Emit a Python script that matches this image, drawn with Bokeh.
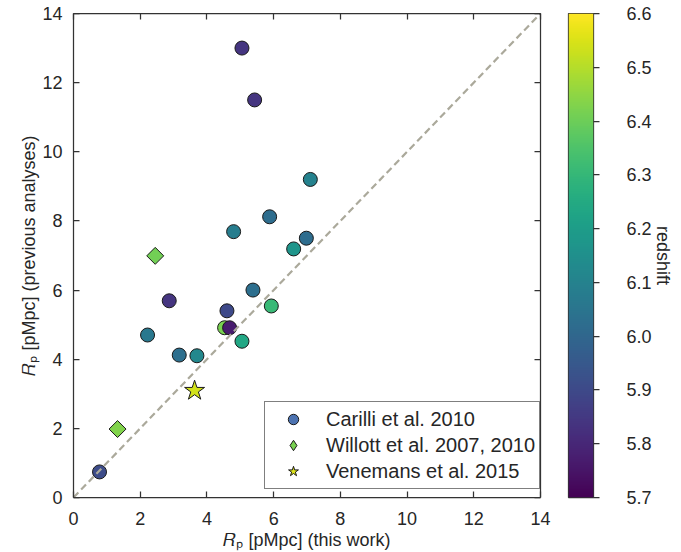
import math
import numpy as np
from bokeh.plotting import figure
from bokeh.models import (ColumnDataSource, LinearColorMapper, FixedTicker, LinearAxis,
                          Legend, LegendItem, Range1d, PrintfTickFormatter)
from bokeh.palettes import Viridis256
from bokeh.transform import transform
from bokeh.layouts import row
from bokeh.embed import file_html
from bokeh.resources import INLINE

# ---------------- data ----------------
# Carilli et al. 2010
car_x = [5.05, 5.43, 7.10, 5.88, 4.80, 6.98, 6.60, 5.38, 2.87, 5.93, 4.60, 4.53, 4.68, 2.22, 5.05, 3.17, 3.70, 0.78]
car_y = [13.00, 11.50, 9.20, 8.12, 7.69, 7.50, 7.19, 6.00, 5.69, 5.54, 5.40, 4.91, 4.91, 4.70, 4.52, 4.12, 4.10, 0.74]
car_z = [5.84, 5.84, 6.10, 6.02, 6.08, 6.02, 6.17, 6.03, 5.84, 6.31, 5.90, 6.42, 5.77, 6.06, 6.24, 6.03, 6.12, 5.91]
# Willott et al. 2007, 2010
wil_x = [2.45, 1.32]
wil_y = [6.99, 1.98]
wil_z = [6.41, 6.43]
# Venemans et al. 2015
ven_x = [3.63]
ven_y = [3.09]
ven_z = [6.54]

one_to_one = [0, 14]
axis_ticks = [0, 2, 4, 6, 8, 10, 12, 14]
cbar_ticks = [5.7, 5.8, 5.9, 6.0, 6.1, 6.2, 6.3, 6.4, 6.5, 6.6]
z_low, z_high = 5.7, 6.6

x_label = "\U0001D445\u209A [pMpc] (this work)"
y_label = "\U0001D445\u209A [pMpc] (previous analyses)"
cbar_label = "redshift"
legend_labels = ["Carilli et al. 2010", "Willott et al. 2007, 2010", "Venemans et al. 2015"]
legend_colors = ["#4c72b0", "#78d151", "#dde318"]

FONT = "Liberation Sans"
FS = "18px"
TXT = "#262626"
SPINE = "#333333"

mapper = LinearColorMapper(palette=Viridis256, low=z_low, high=z_high)

# ---------------- main figure ----------------
p = figure(frame_width=467, frame_height=484, x_range=Range1d(0, 14), y_range=Range1d(0, 14),
           output_backend="svg", toolbar_location=None,
           min_border_left=73, min_border_right=13, min_border_top=13, min_border_bottom=53,
           x_axis_location=None, y_axis_location=None)
p.grid.visible = False
p.outline_line_color = None
p.background_fill_color = "white"

for side in ["below", "left", "above", "right"]:
    ax = LinearAxis(ticker=FixedTicker(ticks=axis_ticks), major_tick_in=6, major_tick_out=0,
                    minor_tick_line_color=None, axis_line_color=SPINE, major_tick_line_color=SPINE,
                    axis_line_width=1.25, major_tick_line_width=1.25,
                    major_label_text_font=FONT, major_label_text_font_size=FS,
                    major_label_text_color=TXT,
                    axis_label_text_font=FONT, axis_label_text_font_size=FS,
                    axis_label_text_font_style="normal", axis_label_text_color=TXT,
                    axis_label_standoff=0)
    if side in ("above", "right"):
        ax.major_label_overrides = {t: "" for t in axis_ticks}
        ax.major_label_standoff = 0
    elif side == "below":
        ax.major_label_standoff = 14
        ax.axis_label = x_label
        ax.axis_label_standoff = 2
    else:
        ax.major_label_standoff = 11
        ax.axis_label = y_label
    p.add_layout(ax, side)

src_c = ColumnDataSource(dict(x=car_x, y=car_y, z=car_z))
src_w = ColumnDataSource(dict(x=wil_x, y=wil_y, z=wil_z))
src_v = ColumnDataSource(dict(x=ven_x, y=ven_y, z=ven_z))

p.scatter("x", "y", source=src_c, marker="circle", size=14,
          fill_color=transform("z", mapper), line_color="#1a1a1a", line_width=1)
p.scatter("x", "y", source=src_w, marker="square", angle=math.pi / 4, size=12,
          fill_color=transform("z", mapper), line_color="#1a1a1a", line_width=1)
p.scatter("x", "y", source=src_v, marker="star", size=21,
          fill_color=transform("z", mapper), line_color="#1a1a1a", line_width=1)

p.line(one_to_one, one_to_one, line_color="#aba99b", line_width=2.2, line_dash="7 4")

# legend (proxy renderers, not drawn in the plot area, carry the legend colours)
nan = float("nan")
proxy = dict(x=[nan], y=[nan])
r1 = p.scatter("x", "y", source=ColumnDataSource(proxy), marker="circle", size=14,
               fill_color=legend_colors[0], line_color="#1a1a1a")
r2 = p.scatter("x", "y", source=ColumnDataSource(proxy), marker="diamond", size=16,
               fill_color=legend_colors[1], line_color="#1a1a1a")
r3 = p.scatter("x", "y", source=ColumnDataSource(proxy), marker="star", size=21,
               fill_color=legend_colors[2], line_color="#1a1a1a")
legend = Legend(items=[LegendItem(label=legend_labels[0], renderers=[r1], index=0),
                       LegendItem(label=legend_labels[1], renderers=[r2], index=0),
                       LegendItem(label=legend_labels[2], renderers=[r3], index=0)],
                location=(191, 8), label_text_font=FONT, label_text_font_size="20px",
                label_text_color=TXT, border_line_color="black", border_line_width=1,
                padding=4, spacing=0, glyph_width=48, glyph_height=26, label_height=26,
                label_standoff=9, background_fill_alpha=1)
p.add_layout(legend, "center")

# ---------------- colour bar figure ----------------
cb = figure(frame_width=25, frame_height=484, x_range=Range1d(0, 1), y_range=Range1d(z_low, z_high),
            output_backend="svg", toolbar_location=None,
            min_border_left=15, min_border_right=83, min_border_top=13, min_border_bottom=53,
            x_axis_location=None, y_axis_location=None)
cb.grid.visible = False
cb.outline_line_color = SPINE
cb.outline_line_width = 1.25
grad = np.linspace(z_low, z_high, 256).reshape(-1, 1)
cb.image(image=[grad], x=0, y=z_low, dw=1, dh=z_high - z_low, color_mapper=mapper)
cax = LinearAxis(ticker=FixedTicker(ticks=cbar_ticks), formatter=PrintfTickFormatter(format="%.1f"),
                 major_tick_in=0, major_tick_out=6, minor_tick_line_color=None,
                 axis_line_color=None, major_tick_line_color=SPINE, major_tick_line_width=1.25,
                 major_label_text_font=FONT, major_label_text_font_size=FS,
                 major_label_text_color=TXT, major_label_standoff=27,
                 axis_label=cbar_label, axis_label_text_font=FONT, axis_label_text_font_size=FS,
                 axis_label_text_font_style="normal", axis_label_text_color=TXT,
                 axis_label_standoff=-2)
cb.add_layout(cax, "right")

layout = row(p, cb)
open("out.html", "w").write(file_html(layout, INLINE))
